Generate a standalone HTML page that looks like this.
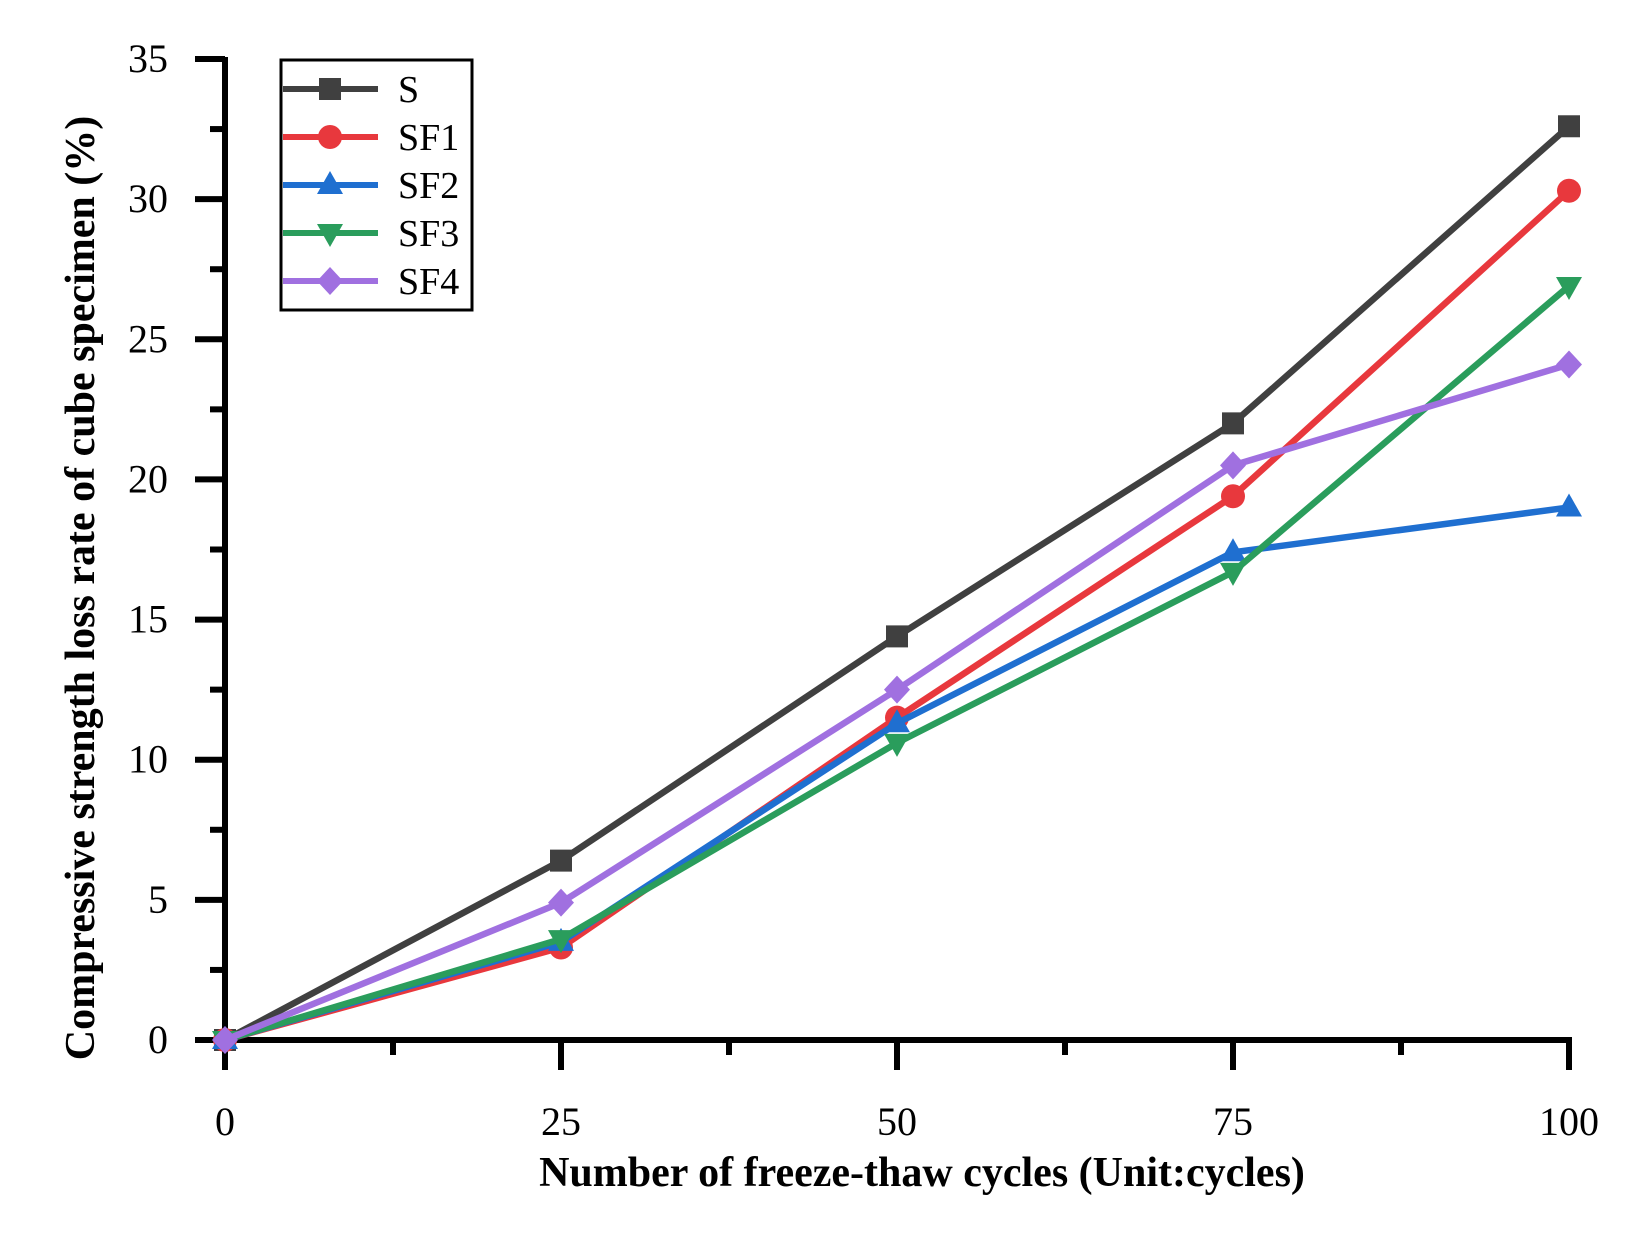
<!DOCTYPE html>
<html><head><meta charset="utf-8"><style>
body{margin:0;background:#fff;}
svg{display:block;font-family:"Liberation Serif",serif;}
</style></head><body>
<svg id="chart" width="1648" height="1233" viewBox="0 0 1648 1233" xmlns="http://www.w3.org/2000/svg">
<g id="axes"></g>
<g id="series"></g>
<g id="legend"></g>
<text x="922" y="1186" text-anchor="middle" font-size="42" font-weight="bold">Number of freeze-thaw cycles (Unit:cycles)</text>
<text transform="translate(94,588) rotate(-90)" text-anchor="middle" font-size="42" font-weight="bold">Compressive strength loss rate of cube specimen (%)</text>
</svg>
<script>
const categories=[0,25,50,75,100];
const xTicks=["0","25","50","75","100"];
const yTicks=[0,5,10,15,20,25,30,35];
const seriesNames=["S","SF1","SF2","SF3","SF4"];
const sVals=[0,6.4,14.4,22.0,32.6];
const sf1Vals=[0,3.3,11.5,19.4,30.3];
const sf2Vals=[0,3.5,11.3,17.4,19.0];
const sf3Vals=[0,3.6,10.6,16.7,26.9];
const sf4Vals=[0,4.9,12.5,20.5,24.1];
const allVals=[sVals,sf1Vals,sf2Vals,sf3Vals,sf4Vals];
const colors=["#404040","#e8383d","#1f6fd0","#2a9d5c","#a070e0"];
const markers=["square","circle","triangle","down","diamond"];
const NS="http://www.w3.org/2000/svg";
const X0=225,X1=1569,Y0=1040,Y1=59;
const xs=v=>X0+(v-0)/(100-0)*(X1-X0);
const ys=v=>Y0-(v-0)/(35-0)*(Y0-Y1);
function mk(tag,at,parent){const e=document.createElementNS(NS,tag);for(const k in at)e.setAttribute(k,at[k]);parent.appendChild(e);return e;}
const axes=document.getElementById('axes');
let a=mk('line',{x1:X0,y1:Y1-2,x2:X0,y2:Y0+30,stroke:'#000','stroke-width':6},axes);


a=mk('line',{x1:X0-30,y1:Y0,x2:X1+3,y2:Y0,stroke:'#000','stroke-width':6},axes);


yTicks.forEach((t,i)=>{
  const y=ys(t);
  const l=mk('line',{x1:X0-30,y1:y,x2:X0,y2:y,stroke:'#000','stroke-width':6},axes);
  
  
  if(i<yTicks.length-1){const ym=ys(t+2.5);const m=mk('line',{x1:X0-15,y1:ym,x2:X0,y2:ym,stroke:'#000','stroke-width':6},axes);
  
  }
  const tx=mk('text',{x:168,y:y+13,'text-anchor':'end','font-size':40},axes);tx.textContent=t;
  
  
});
categories.forEach((c,i)=>{
  const x=xs(c);
  const l=mk('line',{x1:x,y1:Y0,x2:x,y2:Y0+30,stroke:'#000','stroke-width':6},axes);
  
  
  if(i<categories.length-1){const xm=xs(c+12.5);const m=mk('line',{x1:xm,y1:Y0,x2:xm,y2:Y0+15,stroke:'#000','stroke-width':6},axes);
  
  }
  const tx=mk('text',{x:x,y:1135,'text-anchor':'middle','font-size':40},axes);tx.textContent=xTicks[i];
  
  
});
function marker(type,x,y,col,parent){
  let e;
  if(type==='square')e=mk('rect',{x:x-11,y:y-11,width:22,height:22,fill:col},parent);
  else if(type==='circle')e=mk('circle',{cx:x,cy:y,r:12,fill:col},parent);
  else if(type==='triangle')e=mk('polygon',{points:`${x},${y-14} ${x-13},${y+9} ${x+13},${y+9}`,fill:col},parent);
  else if(type==='down')e=mk('polygon',{points:`${x},${y+14} ${x-13},${y-9} ${x+13},${y-9}`,fill:col},parent);
  else e=mk('polygon',{points:`${x},${y-14} ${x+13},${y} ${x},${y+14} ${x-13},${y}`,fill:col},parent);
  return e;
}
const sg=document.getElementById('series');
allVals.forEach((vals,si)=>{
  const g=mk('g',{},sg);
  
  
  const pl=mk('polyline',{points:vals.map((v,i)=>xs(categories[i])+','+ys(v)).join(' '),fill:'none',stroke:colors[si],'stroke-width':6.5,'stroke-linejoin':'round'},g);
  
  
  vals.forEach((v,i)=>{const m=marker(markers[si],xs(categories[i]),ys(v),colors[si],g);
    
    });
});
const lg=document.getElementById('legend');
const box=mk('rect',{x:281,y:60,width:191,height:250,fill:'#fff',stroke:'#000','stroke-width':3},lg);


seriesNames.forEach((n,i)=>{
  const y=89+i*48;
  const g=mk('g',{},lg);
  
  
  mk('line',{x1:283,y1:y,x2:378,y2:y,stroke:colors[i],'stroke-width':6},g);
  marker(markers[i],330,y,colors[i],g);
  const t=mk('text',{x:398,y:y+13,'font-size':38},g);t.textContent=n;
});
</script>
</body></html>
